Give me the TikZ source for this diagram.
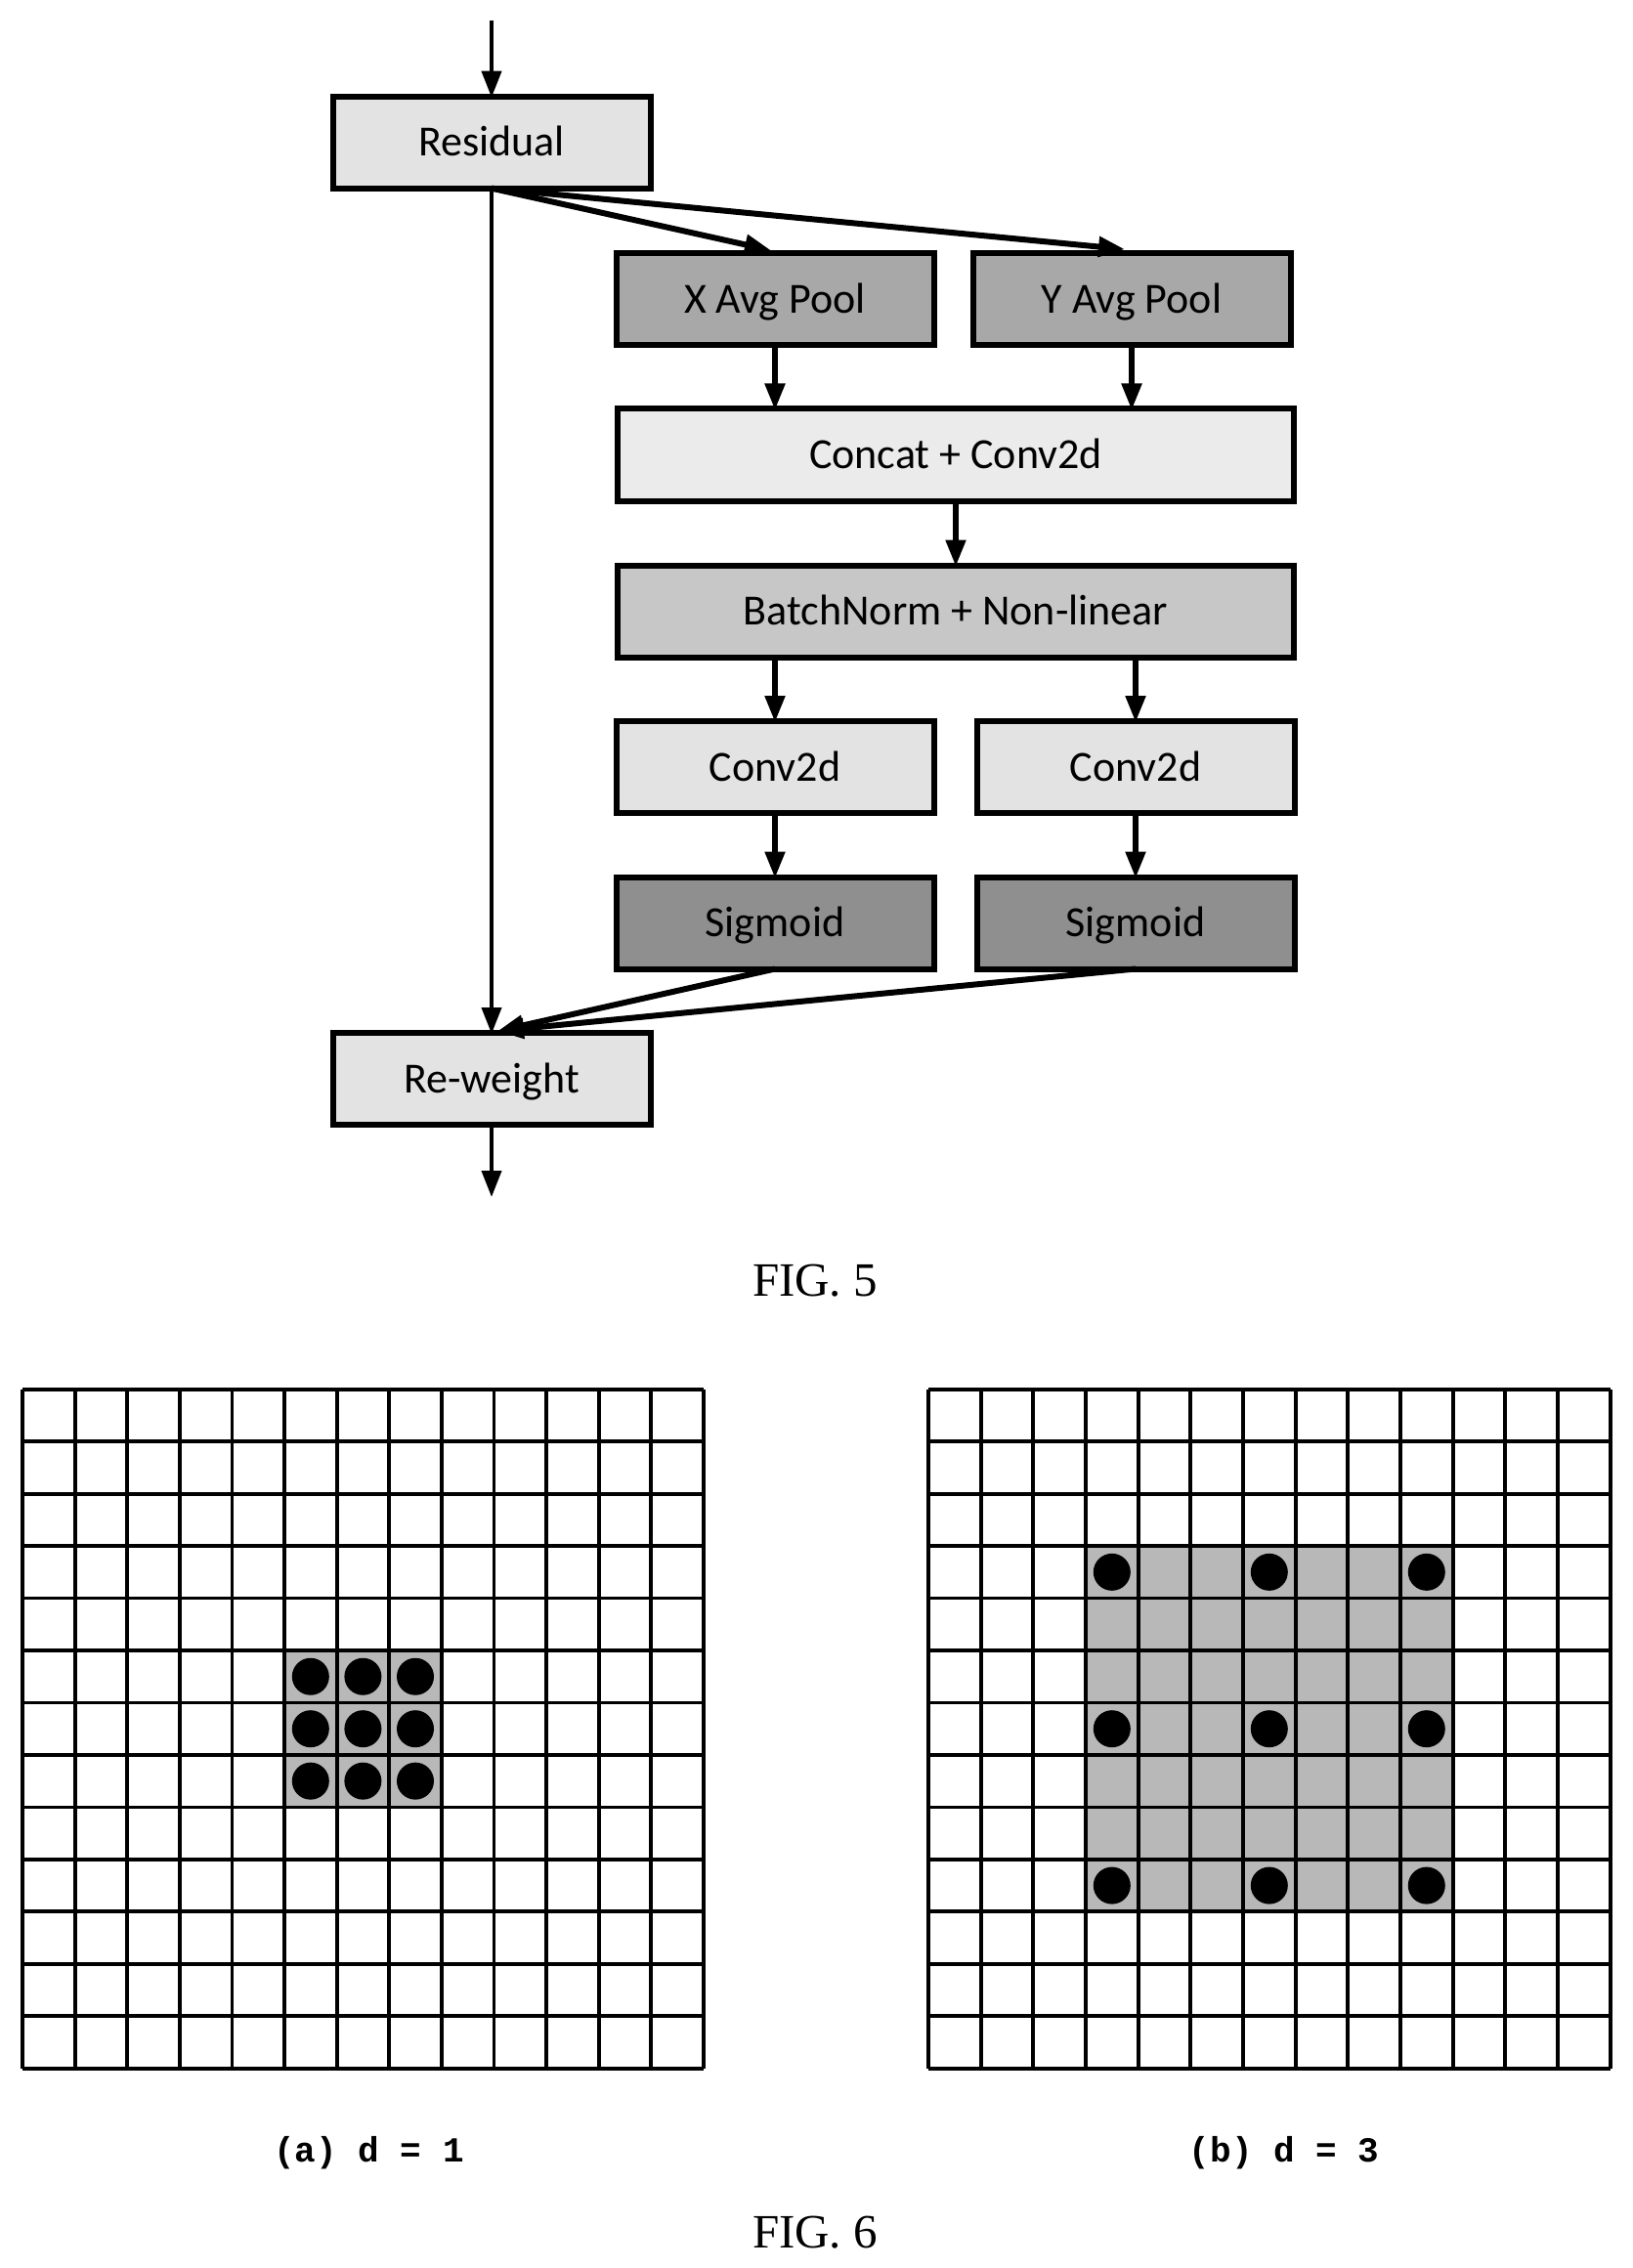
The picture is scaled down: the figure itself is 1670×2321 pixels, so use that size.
\documentclass[tikz,border=0pt]{standalone}
\usepackage{fontspec}
\setmainfont{Carlito}
\newfontfamily\capfont{Liberation Serif}
\newfontfamily\subfont{Liberation Mono}[BoldFont={Liberation Mono Bold}]
\usetikzlibrary{arrows.meta}
\definecolor{gLight}{gray}{0.89}
\definecolor{gPale}{gray}{0.92}
\definecolor{gMid}{gray}{0.78}
\definecolor{gDark}{gray}{0.66}
\definecolor{gDarker}{gray}{0.56}
\definecolor{gCell}{gray}{0.72}
\tikzset{
  x=0.5pt,y=-0.5pt,
  fbox/.style={draw=black,line width=3pt,inner sep=0pt,outer sep=0pt,
    minimum height=47pt,text height=14.1pt,text depth=0pt,font=\fontsize{22}{26}\selectfont},
  shortbox/.style={fbox,minimum width=162.5pt},
  longbox/.style={fbox,minimum width=346pt},
  flow/.style={draw=black,line width=2.6pt,-{Triangle[length=13.5pt,width=10pt]},shorten >=-0.5pt},
  thinflow/.style={flow,line width=2pt},
  diagflow/.style={flow,line width=3pt},
  gridline/.style={draw=black,line width=1.9pt},
  cellshade/.style={fill=gCell},
  dotmark/.style={fill=black},
  capt/.style={font=\capfont\fontsize{24.5}{28}\selectfont,inner sep=0pt},
  subcapt/.style={font=\subfont\bfseries\fontsize{18}{20}\selectfont,inner sep=0pt},
}
\begin{document}
\begin{tikzpicture}
\useasboundingbox (0,0) rectangle (1670,2321);
\fill[white] (0,0) rectangle (1670,2321);
% flow chart
\coordinate (in) at (503,21);
\coordinate (out) at (503,1224);
\node[shortbox,fill=gLight] (res) at (503,145.7) {Residual};
\node[shortbox,fill=gDark] (xp) at (793,306) {X Avg Pool};
\node[shortbox,fill=gDark] (yp) at (1158,306) {Y Avg Pool};
\node[longbox,fill=gPale] (cc) at (978,465.5) {Concat + Conv2d};
\node[longbox,fill=gMid] (bn) at (978,625.5) {BatchNorm + Non-linear};
\node[shortbox,fill=gLight] (c1) at (793,785) {Conv2d};
\node[shortbox,fill=gLight] (c2) at (1162,785) {Conv2d};
\node[shortbox,fill=gDarker] (s1) at (793,944.5) {Sigmoid};
\node[shortbox,fill=gDarker] (s2) at (1162,944.5) {Sigmoid};
\node[shortbox,fill=gLight] (rw) at (503,1104) {Re-weight};
\coordinate (xin) at (788,256);
\coordinate (yin) at (1150,255);
\coordinate (rwin) at (510,1055);
\draw[thinflow] (in) -- (res.north);
\draw[thinflow] (res.south) -- (rw.north);
\draw[thinflow] (rw.south) -- (out);
\draw[diagflow] (res.south) -- (xin);
\draw[diagflow] (res.south) -- (yin);
\draw[flow] (xp.south) -- (xp.south |- cc.north);
\draw[flow] (yp.south) -- (yp.south |- cc.north);
\draw[flow] (cc.south) -- (bn.north);
\draw[flow] (c1.north |- bn.south) -- (c1.north);
\draw[flow] (c2.north |- bn.south) -- (c2.north);
\draw[flow] (c1.south) -- (s1.north);
\draw[flow] (c2.south) -- (s2.north);
\draw[diagflow] (s1.south) -- (rwin);
\draw[diagflow] (s2.south) -- (rwin);
\node[capt] (f5) at (834,1310.5) {FIG. 5};
% panel a
\begin{scope}[shift={(23,1421.7)},x=26.8pt,y=-26.73pt]
  \foreach \c in {5,6,7}\foreach \r in {5,6,7}
    \fill[cellshade] (\c,\r) rectangle ++(1,1);
  \foreach \i in {0,...,13}{
    \draw[gridline] (\i,0) -- (\i,13);
    \draw[gridline] (0,\i) -- (13,\i);
  }
  \foreach \c in {5,6,7}\foreach \r in {5,6,7}
    \fill[dotmark] (\c+.5,\r+.5) circle[radius=9.5pt];
\end{scope}
% panel b
\begin{scope}[shift={(950,1421.7)},x=26.83pt,y=-26.73pt]
  \fill[cellshade] (3,3) rectangle (10,10);
  \foreach \i in {0,...,13}{
    \draw[gridline] (\i,0) -- (\i,13);
    \draw[gridline] (0,\i) -- (13,\i);
  }
  \foreach \c in {3,6,9}\foreach \r in {3,6,9}
    \fill[dotmark] (\c+.5,\r+.5) circle[radius=9.5pt];
\end{scope}
\node[subcapt] (sa) at (377.5,2203) {(a) d = 1};
\node[subcapt] (sb) at (1314,2203) {(b) d = 3};
\node[capt] (f6) at (834,2285) {FIG. 6};
\end{tikzpicture}
\end{document}
